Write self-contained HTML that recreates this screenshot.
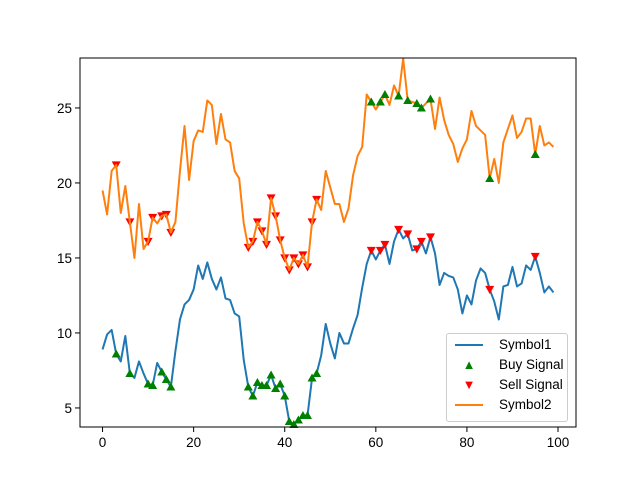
<!DOCTYPE html>
<html><head><meta charset="utf-8"><style>
body{margin:0;background:#fff;}
svg{display:block;font-family:"Liberation Sans","DejaVu Sans",sans-serif;}
</style></head><body>
<svg id="chart" width="640" height="480" viewBox="0 0 640 480"></svg>
<script>
const xs = Array.from({length:100},(_,i)=>i);
const symbol1 = [8.9,9.9,10.2,8.6,8.1,9.8,7.3,7.0,8.1,7.3,6.6,6.5,8.0,7.4,6.9,6.4,8.8,10.9,11.9,12.2,12.9,14.5,13.6,14.7,13.6,12.9,13.7,12.3,12.2,11.3,11.1,8.2,6.4,5.8,6.7,6.5,6.5,7.2,6.3,6.6,5.8,4.1,3.9,4.2,4.5,4.5,7.0,7.3,8.5,10.6,9.3,8.3,10.0,9.3,9.3,10.3,11.2,13.0,14.6,15.5,14.9,15.5,15.9,14.6,16.1,16.9,16.3,16.6,15.5,15.6,16.1,15.3,16.4,15.3,13.2,14.0,13.8,13.7,12.9,11.3,12.5,11.9,13.5,14.3,14.0,12.9,12.1,10.9,13.1,13.2,14.4,13.1,13.3,14.5,14.2,15.1,14.0,12.7,13.1,12.7];
const symbol2 = [19.5,17.9,20.8,21.2,18.0,19.8,17.4,15.0,18.6,15.6,16.1,17.7,17.3,17.8,17.9,16.7,17.4,20.8,23.8,20.2,22.8,23.5,23.4,25.5,25.2,22.6,24.6,22.9,22.7,20.8,20.3,17.3,15.7,16.1,17.4,16.8,15.9,19.0,17.8,16.2,15.0,14.2,15.0,14.6,15.2,14.4,17.4,18.9,18.2,20.8,19.7,18.6,18.6,17.4,18.3,20.5,21.8,22.4,25.9,25.4,24.9,25.4,25.9,25.2,26.5,25.8,28.3,25.5,25.4,25.3,25.0,25.3,25.6,23.6,25.7,24.2,23.2,22.6,21.4,22.3,22.9,24.8,23.8,23.5,23.2,20.3,21.6,20.0,22.7,23.6,24.5,23.0,23.4,24.3,24.3,21.9,23.8,22.5,22.7,22.4];
const signalIdxA = [3,6,10,11,13,14,15,32,33,34,35,36,37,38,39,40,41,42,43,44,45,46,47];
const signalIdxB = [59,61,62,65,67,69,70,72,85,95];
const xTicks = [0,20,40,60,80,100];
const yTicks = [5,10,15,20,25];

const L=80,R=576,T=58,B=427;
const xMin=-4.95,xMax=103.95,yMin=3.73,yMax=28.33;
const X=v=>L+(v-xMin)/(xMax-xMin)*(R-L);
const Y=v=>B-(v-yMin)/(yMax-yMin)*(B-T);
const svg=document.getElementById('chart');
const NS='http://www.w3.org/2000/svg';
function mk(tag,attrs,parent){const e=document.createElementNS(NS,tag);for(const k in attrs)e.setAttribute(k,attrs[k]);(parent||svg).appendChild(e);return e;}

const s1Color='#1f77b4',s2Color='#ff7f0e';
function line(data,color,name){
  const p=mk('polyline',{points:data.map((v,i)=>X(xs[i])+','+Y(v)).join(' '),fill:'none',stroke:color,'stroke-width':2,'stroke-linejoin':'round'});
  
  
}
function tri(x,y,up,color,name){
  const s=4.5;
  const pts=up?`${x},${y-s} ${x-s},${y+s*0.8} ${x+s},${y+s*0.8}`:`${x},${y+s} ${x-s},${y-s*0.8} ${x+s},${y-s*0.8}`;
  const t=mk('polygon',{points:pts,fill:color});
  
  
}
line(symbol1,s1Color,'symbol1-line');
signalIdxA.forEach(i=>tri(X(xs[i]),Y(symbol1[i]),true,'green','buy-marker'));
signalIdxB.forEach(i=>tri(X(xs[i]),Y(symbol1[i]),false,'red','sell-marker'));
signalIdxA.forEach(i=>tri(X(xs[i]),Y(symbol2[i]),false,'red','sell-marker'));
line(symbol2,s2Color,'symbol2-line');
signalIdxB.forEach(i=>tri(X(xs[i]),Y(symbol2[i]),true,'green','buy-marker'));

const fr=mk('rect',{x:L,y:T,width:R-L,height:B-T,fill:'none',stroke:'#000','stroke-width':1});


xTicks.forEach(v=>{
  mk('line',{x1:X(v),x2:X(v),y1:B,y2:B+5,stroke:'#000'});
  const t=mk('text',{x:X(v),y:B+20,'text-anchor':'middle','font-size':13.5,fill:'#000'});
  t.textContent=v;
  
  
});
yTicks.forEach(v=>{
  mk('line',{x1:L-5,x2:L,y1:Y(v),y2:Y(v),stroke:'#000'});
  const t=mk('text',{x:L-8,y:Y(v)+5,'text-anchor':'end','font-size':13.5,fill:'#000'});
  t.textContent=v;
  
  
});
</script>
<div style="position:absolute;left:446px;top:333px;width:122px;height:89px;border:1px solid #ccc;border-radius:3px;background:rgba(255,255,255,0.8);font-family:'Liberation Sans','DejaVu Sans',sans-serif;font-size:13.5px;box-sizing:border-box;">
  <div style="position:absolute;left:8px;top:3px;"><span style="display:inline-block;width:28px;height:2px;background:#1f77b4;vertical-align:middle;margin-right:16px"></span>Symbol1</div>
  <div style="position:absolute;left:8px;top:23px;"><span style="display:inline-block;width:28px;text-align:center;color:green;font-size:13px;margin-right:16px">▲</span>Buy Signal</div>
  <div style="position:absolute;left:8px;top:43px;"><span style="display:inline-block;width:28px;text-align:center;color:red;font-size:13px;margin-right:16px">▼</span>Sell Signal</div>
  <div style="position:absolute;left:8px;top:63px;"><span style="display:inline-block;width:28px;height:2px;background:#ff7f0e;vertical-align:middle;margin-right:16px"></span>Symbol2</div>
</div>
</body></html>
